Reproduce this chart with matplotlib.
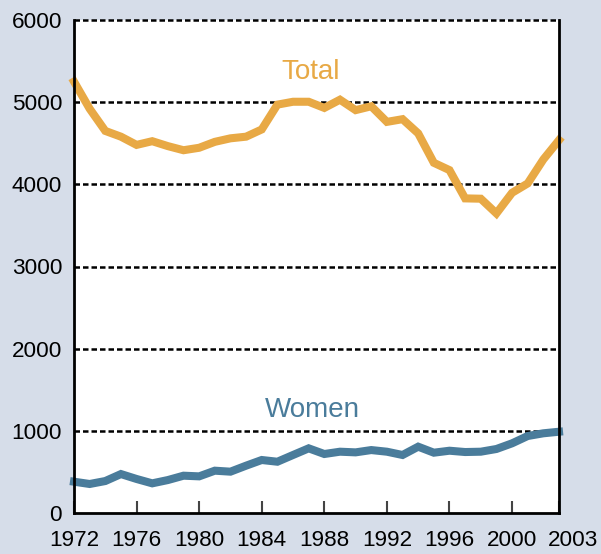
import matplotlib
matplotlib.use("Agg")
import matplotlib.pyplot as plt

years = list(range(1972, 2004))
total = [5250, 4920, 4650, 4580, 4480, 4525, 4465, 4415, 4445, 4517, 4560, 4580,
         4668, 4970, 5005, 5005, 4930, 5030, 4903, 4950, 4760, 4793, 4620, 4262,
         4173, 3829, 3825, 3646, 3897, 4011, 4303, 4538]
women = [381, 353, 389, 474, 414, 361, 401, 454, 446, 515, 503, 576,
         645, 624, 706, 787, 718, 746, 738, 766, 746, 706, 807, 734,
         758, 742, 746, 779, 848, 937, 970, 989]
xtick_labels = ["1972", "1976", "1980", "1984", "1988", "1992", "1996", "2000", "2003"]
xtick_pos = [1972, 1976, 1980, 1984, 1988, 1992, 1996, 2000, 2003]
yticks = [0, 1000, 2000, 3000, 4000, 5000, 6000]

plt.rcParams['font.family'] = ['Liberation Sans', 'DejaVu Sans']
bg = '#d6dde9'
orange = '#e8a945'
blue = '#4a7c9b'

W, H = 601, 554
fig = plt.figure(figsize=(W / 100, H / 100), dpi=100, facecolor=bg)
ax = fig.add_axes([74 / W, 41 / H, 485 / W, 493 / H])
ax.set_facecolor('white')

ax.set_xlim(1972, 2003)
ax.set_ylim(0, 6000)

for y in yticks[1:]:
    ax.axhline(y, color='black', lw=1.8, ls=(0, (2.2, 1.2)), zorder=1, clip_on=False)

ax.plot(years, total, color=orange, lw=5.8, solid_joinstyle='miter', zorder=3, clip_on=False)
ax.plot(years, women, color=blue, lw=5.8, solid_joinstyle='miter', zorder=3, clip_on=False)

ax.text(311 / W, 1 - 78.8 / H, 'Total', transform=fig.transFigure, color=orange,
        fontsize=20, ha='center', va='baseline')
ax.text(312 / W, 1 - 416.7 / H, 'Women', transform=fig.transFigure, color=blue,
        fontsize=20, ha='center', va='baseline')

ax.set_yticks(yticks)
ax.set_yticklabels([str(v) for v in yticks], fontsize=16.2)
ax.set_xticks(xtick_pos)
ax.set_xticklabels(xtick_labels[:-1] + [""], fontsize=16.2)
ax.annotate(xtick_labels[-1], xy=(xtick_pos[-1], 0), xycoords=('data', 'axes fraction'),
            xytext=(10, -12), textcoords='offset points', ha='center', va='top',
            fontsize=16.2, annotation_clip=False)
ax.tick_params(axis='y', length=0, pad=8.5)
ax.tick_params(axis='x', direction='in', length=9, width=1.5, color='#444444', pad=12)

ax.spines['top'].set_visible(False)
for s in ['left', 'right', 'bottom']:
    ax.spines[s].set_linewidth(2)
    ax.spines[s].set_color('black')
    ax.spines[s].set_zorder(4)

fig.savefig('out.png', dpi=100, facecolor=bg)
